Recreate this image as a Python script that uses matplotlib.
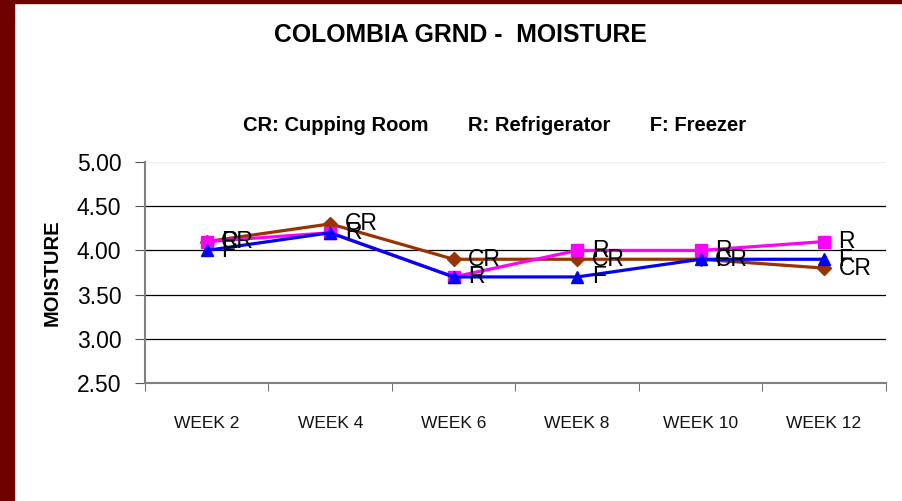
import matplotlib.pyplot as plt
from matplotlib.patches import Rectangle

weeks = ['WEEK 2', 'WEEK 4', 'WEEK 6', 'WEEK 8', 'WEEK 10', 'WEEK 12']
cupping_room = [4.1, 4.3, 3.9, 3.9, 3.9, 3.8]
refrigerator = [4.1, 4.2, 3.7, 4.0, 4.0, 4.1]
freezer = [4.0, 4.2, 3.7, 3.7, 3.9, 3.9]
yticks = [2.5, 3.0, 3.5, 4.0, 4.5, 5.0]

plt.rcParams['font.family'] = ['Liberation Sans', 'DejaVu Sans']

fig = plt.figure(figsize=(9.02, 5.01), dpi=100)
ax = fig.add_axes([0.1608, 0.2355, 0.8212, 0.4411])

x = list(range(len(weeks)))
series = [
    (cupping_room, 'CR', '#993300', 'D', 7),
    (refrigerator, 'R', '#FF00FF', 's', 8),
    (freezer, 'F', '#0000FF', '^', 9),
]
for vals, tag, col, mk, ms in series:
    ax.plot(x, vals, color=col, lw=2.3, marker=mk, ms=ms, zorder=3)
for vals, tag, col, mk, ms in series:
    for xi, v in zip(x, vals):
        ax.annotate(tag, (xi, v), xytext=(10.5, 0), textcoords='offset points',
                    va='center', ha='left', fontsize=16.5, color='black', zorder=4)

ax.set_xlim(-0.5, len(weeks) - 0.5)
ax.set_ylim(2.5, 5.0)
ax.set_yticks(yticks)
ax.set_yticklabels([f'{t:.2f}' for t in yticks], fontsize=16.5)
ax.set_xticks(x)
ax.set_xticklabels(weeks, fontsize=12.5, color='#111111')
ax.set_xticks([i - 0.5 for i in range(len(weeks) + 1)], minor=True)
ax.tick_params(axis='x', which='major', length=0, pad=24)
ax.tick_params(axis='x', which='minor', length=6, color='#555555', direction='out')
ax.tick_params(axis='y', length=7, color='#555555', direction='out', pad=10)

for t in [3.0, 3.5, 4.0, 4.5]:
    ax.axhline(t, color='black', lw=0.9, zorder=1)
ax.axhline(5.0, color='#eeeeee', lw=0.9, zorder=1)

for s in ['top', 'right']:
    ax.spines[s].set_visible(False)
ax.spines['left'].set_color('#808080')
ax.spines['bottom'].set_color('#808080')
ax.spines['left'].set_linewidth(1.5)
ax.spines['bottom'].set_linewidth(1.5)

ax.set_ylabel('MOISTURE', fontsize=14.5, fontweight='bold', labelpad=11)

fig.text(0.511, 0.93, 'COLOMBIA GRND -  MOISTURE', ha='center', va='center',
         fontsize=17.8, fontweight='bold')
fig.text(0.548, 0.75, 'CR: Cupping Room       R: Refrigerator       F: Freezer',
         ha='center', va='center', fontsize=14.5, fontweight='bold')

fig.patches.append(Rectangle((0, 0), 14 / 902, 1, transform=fig.transFigure,
                             color='#6E0000', zorder=5))
fig.patches.append(Rectangle((0, 1 - 3 / 501), 1, 3 / 501, transform=fig.transFigure,
                             color='#6E0000', zorder=5))

fig.savefig('out.png', dpi=100)
